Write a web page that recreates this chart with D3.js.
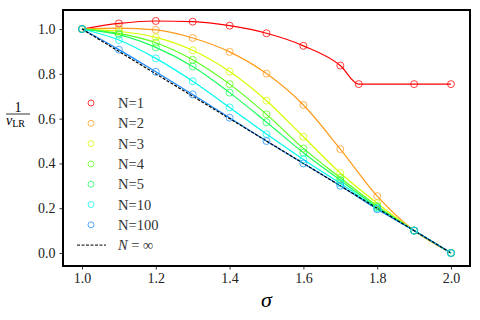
<!DOCTYPE html>
<html>
<head>
<meta charset="utf-8">
<script src="https://cdn.jsdelivr.net/npm/d3@7"></script>
<style>
  body { margin: 0; background: #fff; }
</style>
</head>
<body>
<div id="container"></div>
<script>
var sigma = [1.0, 1.1, 1.2, 1.3, 1.4, 1.5, 1.6, 1.7, 1.8, 1.9, 2.0];
var sigmaN1 = [1.0, 1.1, 1.2, 1.3, 1.4, 1.5, 1.6, 1.7, 1.75, 1.9, 2.0];
var nuN1 = [1.0, 1.025, 1.036, 1.033, 1.015, 0.981, 0.925, 0.837, 0.754, 0.754, 0.754];
var nuN2 = [1.0, 1.004, 0.996, 0.960, 0.898, 0.801, 0.661, 0.464, 0.254, 0.1, 0.0];
var nuN3 = [1.0, 0.990, 0.963, 0.905, 0.810, 0.680, 0.519, 0.357, 0.222, 0.1, 0.0];
var nuN4 = [1.0, 0.981, 0.939, 0.863, 0.754, 0.619, 0.467, 0.336, 0.210, 0.1, 0.0];
var nuN5 = [1.0, 0.975, 0.918, 0.833, 0.716, 0.584, 0.448, 0.325, 0.204, 0.1, 0.0];
var nuN10 = [1.0, 0.951, 0.869, 0.767, 0.650, 0.531, 0.418, 0.311, 0.200, 0.1, 0.0];
var nuN100 = [1.0, 0.908, 0.809, 0.708, 0.604, 0.500, 0.400, 0.300, 0.195, 0.1, 0.0];
var sigmaInf = [1.0, 2.0];
var nuInf = [1.0, 0.0];

var labels = ["N=1", "N=2", "N=3", "N=4", "N=5", "N=10", "N=100"];
var colors = ["#ff0000", "#ff9a1a", "#d6ff00", "#5cff1a", "#1aff5c", "#00ffee", "#1a8cff"];
var xTicks = [1.0, 1.2, 1.4, 1.6, 1.8, 2.0];
var yTicks = [0.0, 0.2, 0.4, 0.6, 0.8, 1.0];

var serif = '"Liberation Serif", "Times New Roman", "DejaVu Serif", serif';

var series = [
  {x: sigmaN1, y: nuN1},
  {x: sigma, y: nuN2},
  {x: sigma, y: nuN3},
  {x: sigma, y: nuN4},
  {x: sigma, y: nuN5},
  {x: sigma, y: nuN10},
  {x: sigma, y: nuN100}
];
series.forEach(function(s, i) {
  s.label = labels[i];
  s.color = colors[i];
  s.points = s.x.map(function(v, j) { return [v, s.y[j]]; });
});

var width = 480, height = 320;
var margin = {left: 63, right: 10, top: 10, bottom: 54};

var svg = d3.select('#container').append('svg')
  .attr('width', width)
  .attr('height', height)
  .attr('font-family', serif);

var x = d3.scaleLinear().domain([0.9485, 2.0515]).range([margin.left, width - margin.right]);
var y = d3.scaleLinear().domain([-0.058, 1.085]).range([height - margin.bottom, margin.top]);

var line = d3.line()
  .x(function(d) { return x(d[0]); })
  .y(function(d) { return y(d[1]); })
  .curve(d3.curveMonotoneX);

var plot = svg.append('g');

plot.selectAll('path.curve')
  .data(series)
  .enter()
  .append('path')
  .attr('class', 'curve')
  .attr('d', function(d) { return line(d.points); })
  .attr('fill', 'none')
  .attr('stroke', function(d) { return d.color; })
  .attr('stroke-width', 1.2);

plot.append('path')
  .attr('d', d3.line()
    .x(function(d) { return x(d[0]); })
    .y(function(d) { return y(d[1]); })(sigmaInf.map(function(v, j) { return [v, nuInf[j]]; })))
  .attr('fill', 'none')
  .attr('stroke', '#000')
  .attr('stroke-width', 1.2)
  .attr('stroke-dasharray', '3,1.5');

series.forEach(function(s) {
  plot.append('g')
    .selectAll('circle')
    .data(s.points)
    .enter()
    .append('circle')
    .attr('cx', function(d) { return x(d[0]); })
    .attr('cy', function(d) { return y(d[1]); })
    .attr('r', 3.5)
    .attr('fill', 'none')
    .attr('stroke', s.color)
    .attr('stroke-opacity', 0.75)
    .attr('stroke-width', 1);
});

// axes
var xAxis = svg.append('g')
  .attr('transform', 'translate(0,' + (height - margin.bottom) + ')')
  .call(d3.axisBottom(x).tickValues(xTicks).tickFormat(d3.format('.1f')).tickSize(3.5).tickPadding(4));
var yAxis = svg.append('g')
  .attr('transform', 'translate(' + margin.left + ',0)')
  .call(d3.axisLeft(y).tickValues(yTicks).tickFormat(d3.format('.1f')).tickSize(3.5).tickPadding(4));
[xAxis, yAxis].forEach(function(a) {
  a.attr('font-family', serif).attr('font-size', 14);
  a.select('.domain').remove();
  a.selectAll('text').attr('fill', '#222');
  a.selectAll('line').attr('stroke', '#000').attr('stroke-width', 0.8);
});

svg.append('rect')
  .attr('x', margin.left)
  .attr('y', margin.top)
  .attr('width', width - margin.left - margin.right)
  .attr('height', height - margin.top - margin.bottom)
  .attr('fill', 'none')
  .attr('stroke', '#000')
  .attr('stroke-width', 2);

// legend
var legend = svg.append('g').attr('transform', 'translate(91,103)');
var item = legend.selectAll('g.item')
  .data(series)
  .enter()
  .append('g')
  .attr('class', 'item')
  .attr('transform', function(d, i) { return 'translate(0,' + (i * 20.3) + ')'; });
item.append('circle')
  .attr('r', 3)
  .attr('fill', 'none')
  .attr('stroke', function(d) { return d.color; })
  .attr('stroke-opacity', 0.75);
item.append('text')
  .attr('x', 27)
  .attr('y', 5)
  .attr('font-size', 14.5)
  .attr('fill', '#333')
  .text(function(d) { return d.label; });

var inf = legend.append('g').attr('transform', 'translate(0,' + (7 * 20.3) + ')');
inf.append('line')
  .attr('x1', -14).attr('x2', 15)
  .attr('stroke', '#000').attr('stroke-width', 1)
  .attr('stroke-dasharray', '3,1.5');
var infText = inf.append('text').attr('x', 27).attr('y', 5).attr('font-size', 14.5).attr('fill', '#333');
infText.append('tspan').attr('font-style', 'italic').text('N');
infText.append('tspan').text(' = ∞');

// axis labels
svg.append('text')
  .attr('x', x(1.5))
  .attr('y', 307)
  .attr('text-anchor', 'middle')
  .attr('font-size', 22)
  .attr('font-style', 'italic')
  .text('σ');

var yl = svg.append('g').attr('transform', 'translate(18,114)');
yl.append('text').attr('y', -2).attr('text-anchor', 'middle').attr('font-size', 14).text('1');
yl.append('line').attr('x1', -12).attr('x2', 12).attr('stroke', '#000').attr('stroke-width', 0.8);
var nu = yl.append('text').attr('x', -12).attr('y', 11).attr('font-size', 14);
nu.append('tspan').attr('font-style', 'italic').text('ν');
nu.append('tspan').attr('font-size', 10).attr('dy', 2).text('LR');
</script>
</body>
</html>
